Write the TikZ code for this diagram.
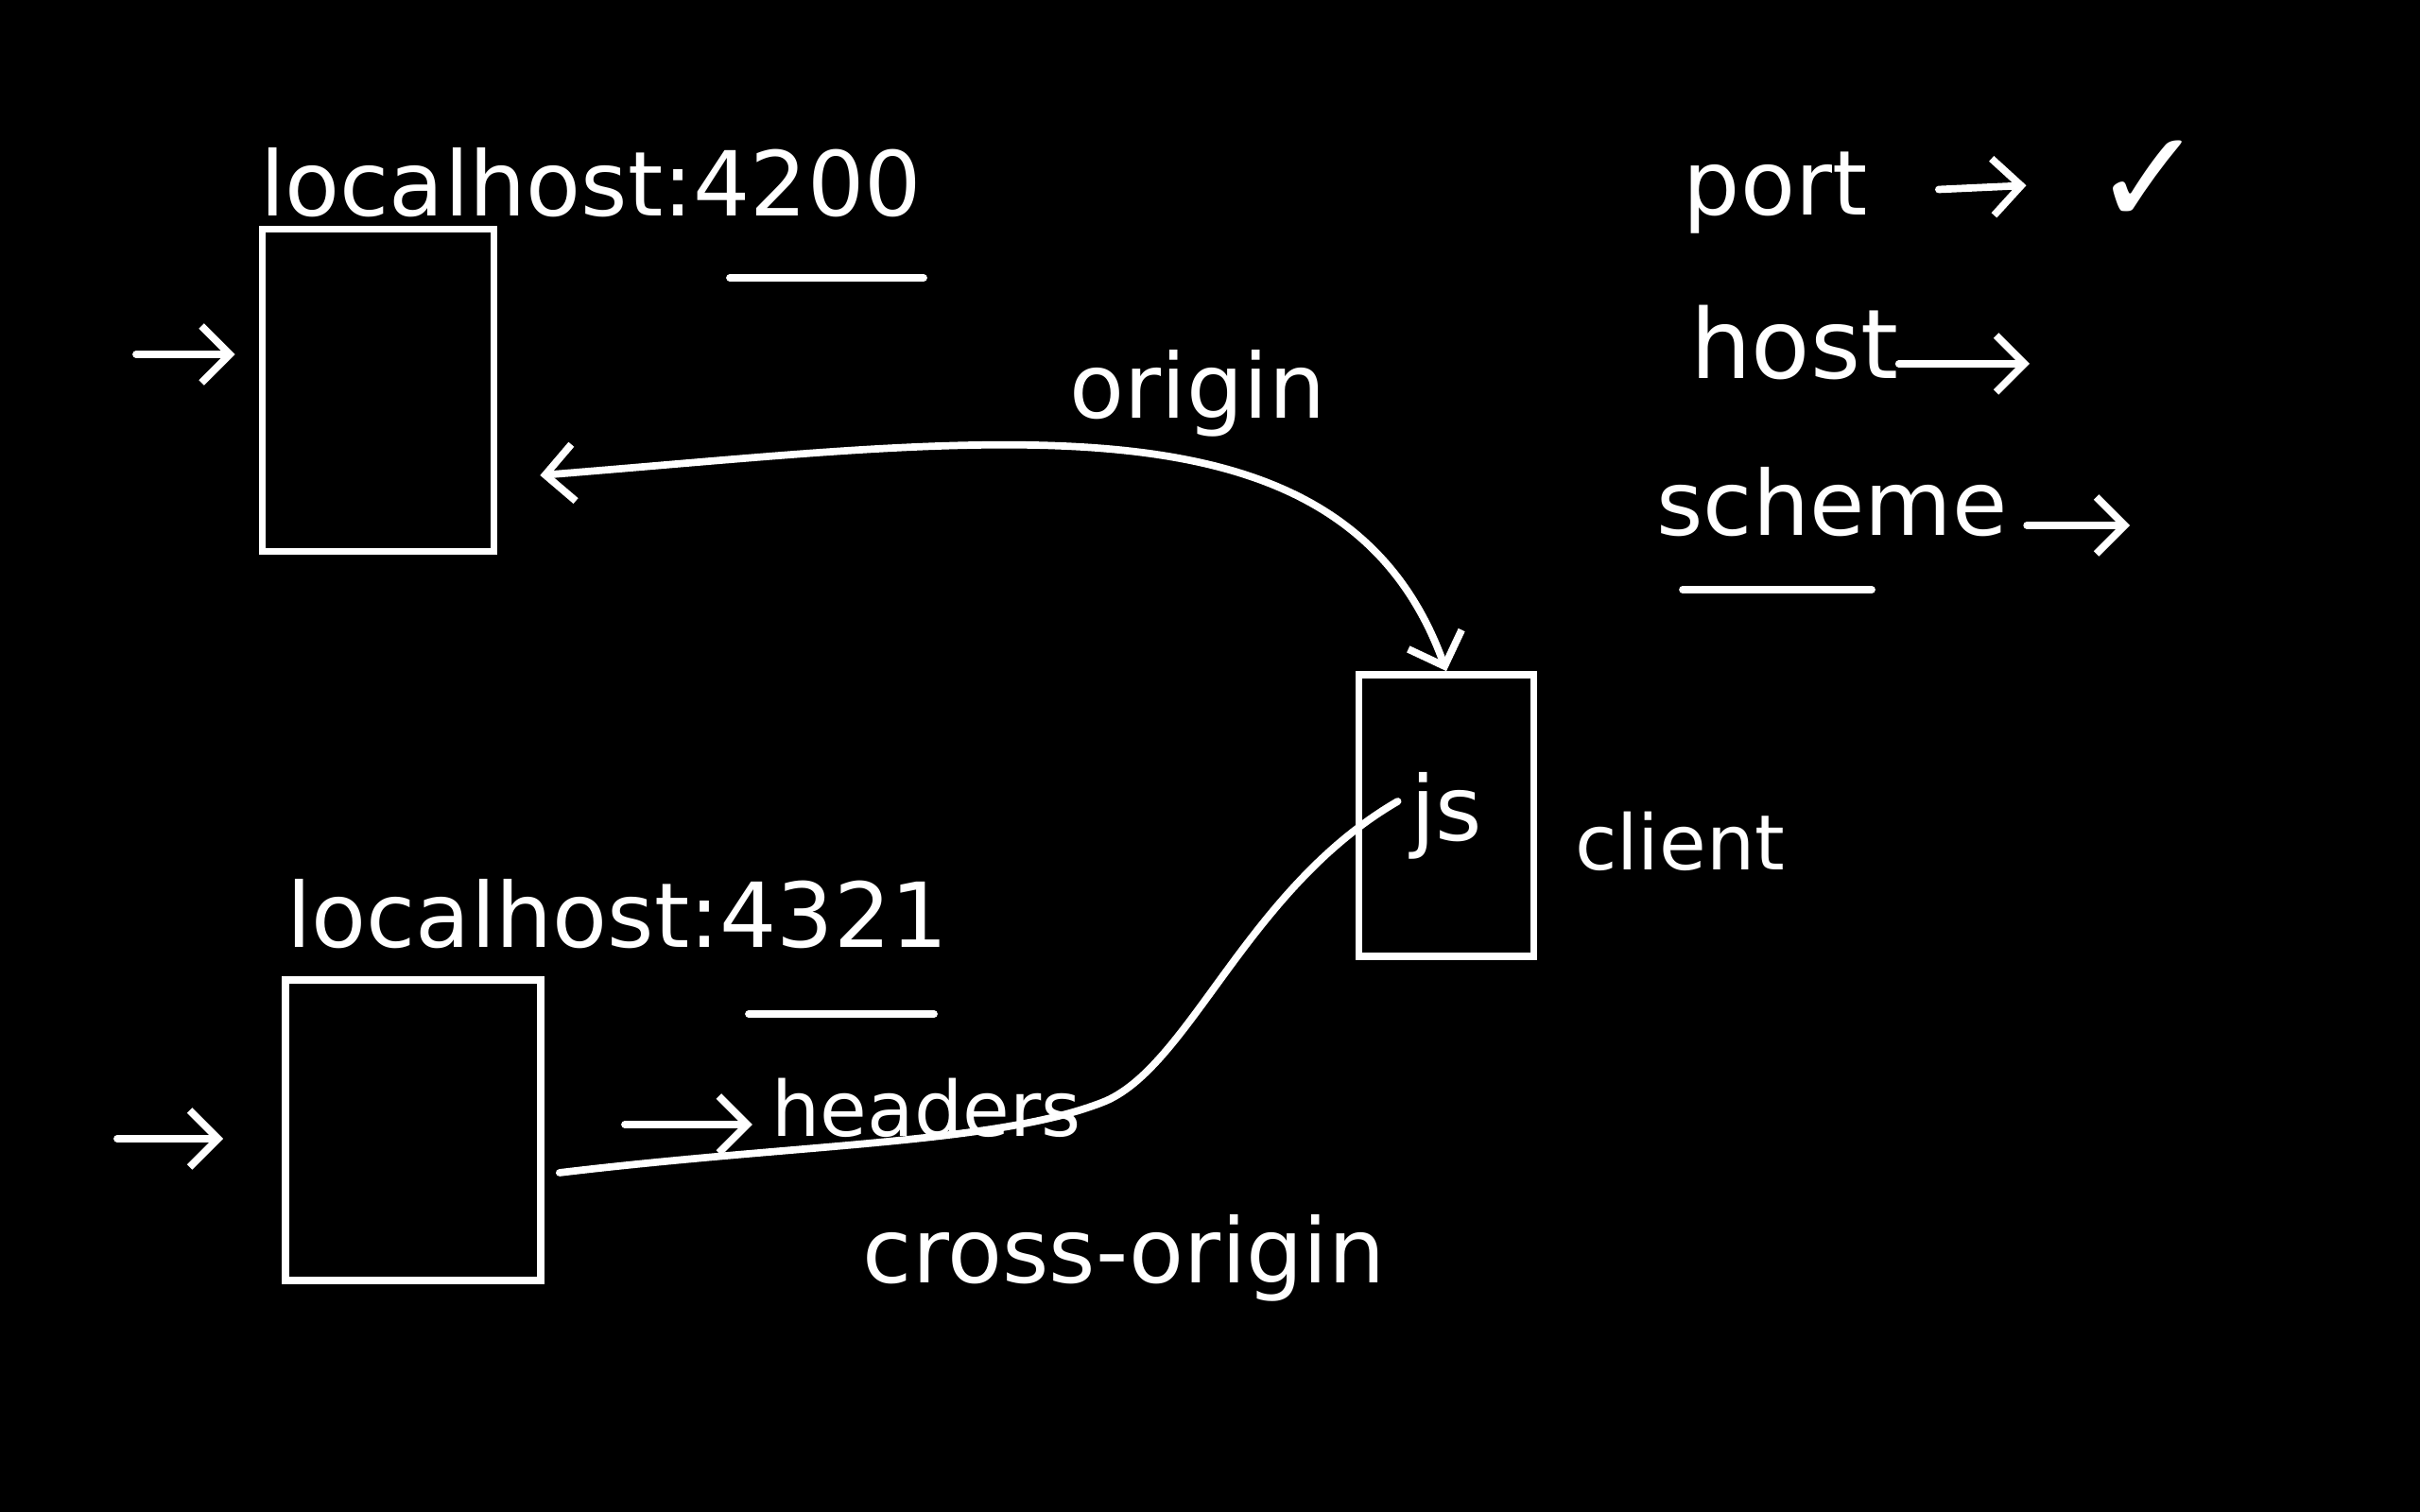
\documentclass[tikz,border=0pt]{standalone}
\usepackage{fontspec}
\setmainfont{DejaVu Sans}
\usepackage{tikz}
\usetikzlibrary{arrows.meta, positioning}
\definecolor{boardbg}{RGB}{0,0,0}
\definecolor{chalk}{RGB}{255,255,255}
\tikzset{
  page/.style={rectangle, draw=chalk, line width=2.2pt, inner sep=0pt},
  word/.style={text=chalk, inner sep=0pt, font=\fontsize{27}{32}\selectfont},
  smallword/.style={text=chalk, inner sep=0pt, font=\fontsize{23}{28}\selectfont},
  arrow/.style={-{Straight Barb[length=3mm,width=6mm]}, line width=2.2pt,
    line cap=round, color=chalk},
  dblarrow/.style={{Straight Barb[length=3mm,width=6mm]}-{Straight Barb[length=3mm,width=6mm]},
    line width=2.2pt, line cap=round, color=chalk},
  line/.style={line width=2.2pt, line cap=round, color=chalk}
}

\begin{document}
\begin{tikzpicture}
  \fill[boardbg] (0,0) rectangle (25.6,16);

  % First app
  \node[word] (lbl1) at (6.25,14.07) {localhost:4200};
  \draw[line] (7.72,13.06) -- (9.77,13.06);
  \node[page, minimum width=2.45cm, minimum height=3.41cm] (page1) at (4.0,11.87) {};
  \coordinate (in1) at (1.44,12.25);
  \draw[arrow, shorten >=0.25cm] (in1) -- (in1 -| page1.west);

  % Second app
  \node[word] (lbl2) at (6.53,6.33) {localhost:4321};
  \draw[line] (7.92,5.27) -- (9.88,5.27);
  \node[page, minimum width=2.7cm, minimum height=3.18cm] (page2) at (4.37,4.04) {};
  \coordinate (in2) at (1.24,3.95);
  \draw[arrow, shorten >=0.62cm] (in2) -- (in2 -| page2.west);

  % Client
  \node[page, word, minimum width=1.85cm, minimum height=2.98cm] (jsbox) at (15.3,7.37) {js};
  \node[smallword] (client) at (17.77,7.1) {client};

  % origin request
  \node[word] (origin) at (12.67,11.84) {origin};
  \draw[dblarrow] ([xshift=0.45cm,yshift=-0.9cm]page1.east)
    .. controls (10.5,11.35) and (14.2,11.95) .. (jsbox.north);

  % cross-origin request
  \node[smallword] (headers) at (9.8,4.28) {headers};
  \coordinate (hdrtail) at (6.61,4.1);
  \draw[arrow, shorten >=0.2cm] (hdrtail) -- (hdrtail -| headers.west);
  \draw[line] ([xshift=0.16cm,yshift=-0.45cm]page2.east)
    .. controls (8.5,3.9) and (10.6,3.9) .. (11.7,4.35)
    .. controls (12.6,4.75) and (13.2,6.6) .. ([xshift=0.45cm,yshift=0.15cm]jsbox.west);
  \node[word] (cross) at (11.89,2.69) {cross-origin};

  % Same origin rules
  \node[word] (port) at (18.78,13.96) {port};
  \node[text=chalk, inner sep=0pt, font=\fontsize{40}{46}\selectfont] (check) at (22.73,14.07) {✓};
  \draw[arrow, shorten <=0.75cm, shorten >=0.7cm] (port.east) -- (check.west);
  \node[word, font=\fontsize{29}{34}\selectfont] (host) at (18.98,12.37) {host};
  \coordinate (hostend) at (21.47,12.15);
  \draw[arrow] (hostend -| host.east) -- (hostend);
  \node[word] (scheme) at (19.38,10.69) {scheme};
  \coordinate (schemeend) at (22.53,10.44);
  \draw[arrow, shorten <=0.2cm] (schemeend -| scheme.east) -- (schemeend);
  \draw[line] (17.8,9.76) -- (19.8,9.76);
\end{tikzpicture}
\end{document}
